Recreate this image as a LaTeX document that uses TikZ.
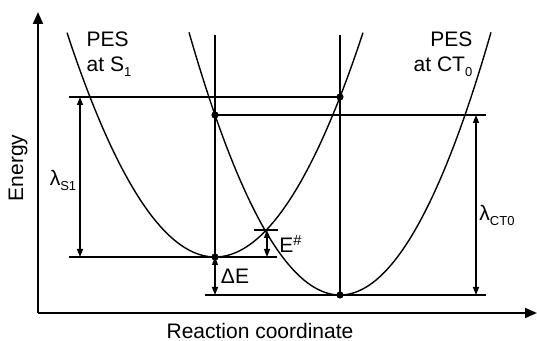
\documentclass[tikz,border=0pt]{standalone}
\usepackage{fontspec}
\setmainfont{Liberation Sans}
\usetikzlibrary{arrows.meta}
\newcommand{\lowsub}[1]{\raisebox{-0.45ex}{\fontsize{6.5}{7}\selectfont #1}}

\begin{document}
\begin{tikzpicture}[x=0.5pt,y=-0.5pt,line width=0.7pt,
    every node/.style={font=\fontsize{10.5}{12.5}\selectfont, inner sep=1pt},
    dimarrow/.style={{Triangle[length=4pt,width=3pt]}-{Triangle[length=4pt,width=3pt]}},
    axisarrow/.style={line width=1pt,-{Triangle[length=6pt,width=5pt]}},
    dot/.style={circle,fill,inner sep=0pt,minimum size=3.6pt}]
    \useasboundingbox (0,0) rectangle (537,341);

    % Axes
    \coordinate (origin) at (38,313);
    \coordinate (ytop) at (38,12);
    \coordinate (xend) at (537,313);
    \draw[axisarrow] (origin) -- (ytop);
    \draw[axisarrow] (origin) -- (xend);
    \node[rotate=90] (energy) at (18,168) {Energy};
    \node (rc) at (260,331) {Reaction coordinate};

    % Potential energy surfaces
    \draw[domain=67:363,samples=90] plot (\x,{257-102.4*((\x-215)/100)^2});
    \draw[domain=189:491,samples=90] plot (\x,{295-115.2*((\x-340)/100)^2});
    \node[align=left, anchor=north west] (pesS1) at (84,29) {PES\\at S\lowsub{1}};
    \node[align=right, anchor=north east] (pesCT) at (475,29) {PES\\at CT\lowsub{0}};

    % Minima and vertical transitions
    \node[dot] (s1min) at (215,257) {};
    \node[dot] (ctmin) at (340,295) {};
    \node[dot] (s1top) at (340,97) {};
    \node[dot] (cttop) at (215,115) {};
    \coordinate (vleft) at (215,35);
    \coordinate (vright) at (340,35);
    \draw (vleft) -- (s1min.center);
    \draw (vright) -- (ctmin.center);

    % Horizontal levels
    \coordinate (topL) at (69,97);
    \coordinate (midR) at (486,115);
    \coordinate (lowL) at (69,257);
    \coordinate (lowR) at (277,257);
    \coordinate (botL) at (205,295);
    \coordinate (botR) at (486,295);
    \coordinate (crossL) at (254,230);
    \coordinate (crossR) at (278,230);
    \draw (topL) -- (s1top.center);
    \draw (cttop.center) -- (midR);
    \draw (lowL) -- (lowR);
    \draw (botL) -- (botR);
    \draw (crossL) -- (crossR);

    % Reorganisation energies and gaps
    \coordinate (lamS1t) at (80,97);
    \coordinate (lamS1b) at (80,257);
    \coordinate (lamCTt) at (476,115);
    \coordinate (lamCTb) at (476,295);
    \coordinate (dEb) at (215,295);
    \coordinate (actT) at (267,230);
    \coordinate (actB) at (267,257);
    \draw[dimarrow] (lamS1t) -- (lamS1b);
    \draw[dimarrow] (lamCTt) -- (lamCTb);
    \draw[dimarrow] (s1min.center) -- (dEb);
    \draw[dimarrow] (actT) -- (actB);
    \node (lamS1) at (63,180) {λ\lowsub{S1}};
    \node (lamCT) at (497,215) {λ\lowsub{CT0}};
    \node (dE) at (235,276) {ΔE};
    \node (act) at (291,244) {E\textsuperscript{\#}};
\end{tikzpicture}
\end{document}
